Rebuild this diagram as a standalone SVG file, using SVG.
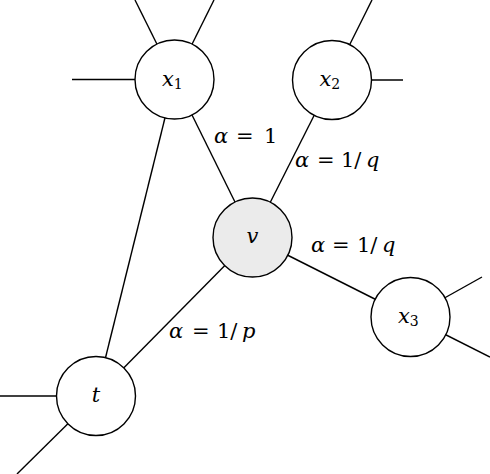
<svg xmlns="http://www.w3.org/2000/svg" width="490" height="474" viewBox="0 0 490 474">
<style>
.e{stroke:#000;stroke-width:1.4;fill:none}
.n{stroke:#000;stroke-width:1.4;fill:#fff}
.g{fill:#ebebeb}
.i{font-style:italic}
</style>
<g id="connectors">
<line class="e" x1="174.5" y1="79.5" x2="135" y2="0"/>
<line class="e" x1="174.5" y1="79.5" x2="214" y2="0"/>
<line class="e" x1="174.5" y1="79.5" x2="72" y2="79.5"/>
<line class="e" x1="332" y1="80" x2="372" y2="0"/>
<line class="e" x1="332" y1="80" x2="403" y2="80"/>
<line class="e" x1="174.5" y1="79.5" x2="252.5" y2="237.5"/>
<line class="e" x1="332" y1="80" x2="252.5" y2="237.5"/>
<line class="e" x1="174.5" y1="79.5" x2="96" y2="396"/>
<line class="e" x1="252.5" y1="237.5" x2="96" y2="396"/>
<line class="e" x1="252.5" y1="237.5" x2="410.5" y2="317"/>
<line class="e" x1="410.5" y1="317" x2="482" y2="277"/>
<line class="e" x1="410.5" y1="317" x2="490" y2="357"/>
<line class="e" x1="96" y1="396" x2="0" y2="396"/>
<line class="e" x1="96" y1="396" x2="17" y2="474"/>
</g>
<g font-family="'DejaVu Serif', serif" font-size="21" fill="#000">
<g id="x1"><circle class="n" cx="174.5" cy="79.5" r="39.5"/><text x="162" y="86"><tspan class="i">x</tspan><tspan font-size="14" dy="3">1</tspan></text></g>
<g id="x2"><circle class="n" cx="332" cy="80" r="39.5"/><text x="319.5" y="86"><tspan class="i">x</tspan><tspan font-size="14" dy="3">2</tspan></text></g>
<g id="v"><circle class="n g" cx="252.5" cy="237.5" r="39.5"/><text x="252.5" y="243" text-anchor="middle" class="i">v</text></g>
<g id="x3"><circle class="n" cx="410.5" cy="317" r="39.5"/><text x="398" y="323"><tspan class="i">x</tspan><tspan font-size="14" dy="3">3</tspan></text></g>
<g id="t"><circle class="n" cx="96" cy="396" r="39.5"/><text x="96" y="402" text-anchor="middle" class="i">t</text></g>
<g id="labels">
<text y="143"><tspan class="i" x="214">α</tspan><tspan x="236">=</tspan><tspan x="264">1</tspan></text>
<text y="167"><tspan class="i" x="295">α</tspan><tspan x="317">=</tspan><tspan x="341">1/</tspan><tspan class="i" x="366">q</tspan></text>
<text y="252"><tspan class="i" x="311">α</tspan><tspan x="332">=</tspan><tspan x="357">1/</tspan><tspan class="i" x="382">q</tspan></text>
<text y="338"><tspan class="i" x="169">α</tspan><tspan x="192">=</tspan><tspan x="217">1/</tspan><tspan class="i" x="242">p</tspan></text>
</g>
</g>
</svg>
